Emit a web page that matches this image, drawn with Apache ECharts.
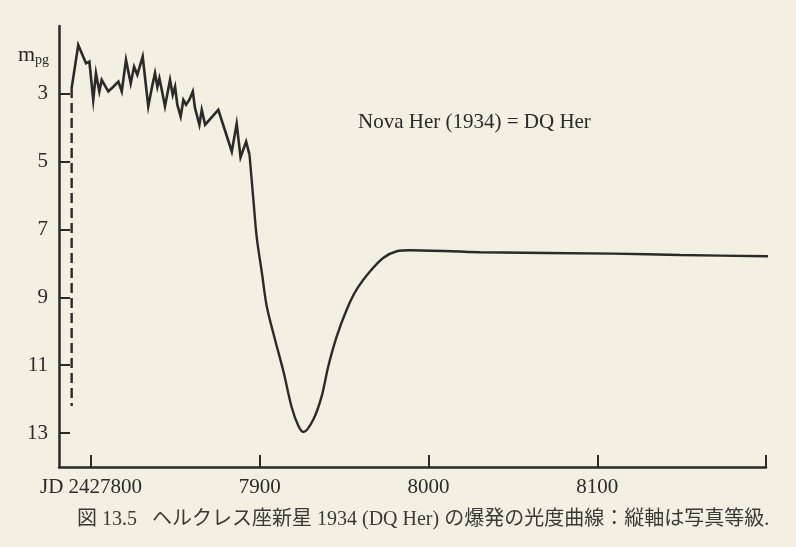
<!DOCTYPE html>
<html>
<head>
<meta charset="utf-8">
<script src="https://cdn.jsdelivr.net/npm/echarts@6/dist/echarts.min.js"></script>
<style>
html,body{margin:0;padding:0;background:#f3efe3;}
#chart{width:796px;height:547px;}
</style>
</head>
<body>
<div id="chart"></div>
<script>
// Outburst part (jagged), JD - 2420000, photographic magnitude
const outburstJD  = [7788.5,7792.4,7797.0,7799.0,7801.3,7802.9,7804.9,7806.3,7810.2,7813.2,7816.2,7818.2,7820.7,7823.5,7825.5,7827.4,7830.6,7833.9,7836.0,7837.9,7839.3,7840.5,7841.9,7843.8,7846.8,7848.4,7849.8,7851.1,7853.1,7854.7,7856.3,7858.2,7860.3,7861.6,7864.2,7865.6,7867.6,7875.4,7883.4,7886.3,7888.6,7891.9,7893.9];
const outburstMag = [2.83,1.56,2.10,2.05,3.18,2.39,2.93,2.59,2.93,2.79,2.64,2.93,2.00,2.69,2.20,2.44,1.90,3.37,2.83,2.39,2.79,2.54,2.88,3.37,2.59,3.03,2.79,3.32,3.67,3.18,3.32,3.18,2.93,3.42,3.91,3.47,3.91,3.47,4.70,3.88,4.87,4.41,4.79];
// Dust-dip and recovery part (smooth)
const dipJD  = [7893.9,7896.2,7898.2,7901.2,7904.1,7909.0,7914.0,7918.9,7922.9,7925.9,7931.8,7936.7,7940.6,7945.6,7951.6,7957.5,7965.4,7973.3,7981.2,7989.1,8030.6,8109.4,8149.1,8203.5];
const dipMag = [4.79,6.12,7.24,8.26,9.26,10.24,11.18,12.24,12.79,12.97,12.59,11.91,11.03,10.15,9.35,8.76,8.23,7.83,7.64,7.61,7.67,7.71,7.75,7.79];
// Pre-discovery dashed limit
const limitJD  = [7788.5,7788.5];
const limitMag = [2.83,12.2];
// Axis ticks
const xTickValues  = [7800,7900,8000,8100,8200];
const xLabelValues = [7800,7900,8000,8100];
const xLabelTexts  = ['JD 2427800','7900','8000','8100'];
const yTickValues  = [3,5,7,9,11,13];

const zip = (a,b) => a.map((v,i)=>[v,b[i]]);
const ink = '#2b2a28';
const serif = "'Liberation Serif','DejaVu Serif',serif";

const chart = echarts.init(document.getElementById('chart'));
chart.setOption({
  backgroundColor: '#f3efe3',
  animation: false,
  grid: {left: 59, right: 30, top: 26, bottom: 80},
  xAxis: {
    type: 'value', min: 7781, max: 8200,
    axisLine: {lineStyle: {color: ink, width: 2.5}},
    axisTick: {inside: true, length: 12, lineStyle: {color: ink, width: 2}, customValues: xTickValues},
    axisLabel: {customValues: xLabelValues, margin: 10, color: ink, fontFamily: serif, fontSize: 21,
      formatter: v => xLabelTexts[xLabelValues.indexOf(v)] || ''},
    splitLine: {show: false}
  },
  yAxis: {
    type: 'value', min: 1, max: 14, inverse: true,
    axisLine: {show: true, lineStyle: {color: ink, width: 2.5}},
    axisTick: {show: true, inside: true, length: 11, lineStyle: {color: ink, width: 2}, customValues: yTickValues},
    axisLabel: {customValues: yTickValues, margin: 11, color: ink, fontFamily: serif, fontSize: 21},
    splitLine: {show: false}
  },
  series: [
    {type: 'line', data: zip(outburstJD, outburstMag), symbol: 'none', clip: false,
     lineStyle: {color: ink, width: 2.6, join: 'miter'}},
    {type: 'line', data: zip(dipJD, dipMag), symbol: 'none', clip: false, smooth: 0.3,
     lineStyle: {color: ink, width: 2.4}},
    {type: 'line', data: zip(limitJD, limitMag), symbol: 'none',
     lineStyle: {color: ink, width: 2.4, type: [10, 5]}}
  ],
  graphic: [
    {type: 'text', left: 18, top: 44,
     style: {text: '{m|m}{s|pg}', rich: {
       m: {fontFamily: serif, fontSize: 22, fill: ink},
       s: {fontFamily: serif, fontSize: 14, fill: ink, padding: [10, 0, 0, 0]}
     }}},
    {type: 'text', left: 358, top: 112,
     style: {text: 'Nova Her (1934) = DQ Her', fontFamily: serif, fontSize: 21, fill: ink}},
    {type: 'text', left: 77, top: 510,
     style: {text: '図 13.5   ヘルクレス座新星 1934 (DQ Her) の爆発の光度曲線：縦軸は写真等級.',
       fontFamily: "'Liberation Serif','Noto Sans CJK JP',serif", fontSize: 20, fill: '#3a3936'}}
  ]
});
</script>
</body>
</html>
